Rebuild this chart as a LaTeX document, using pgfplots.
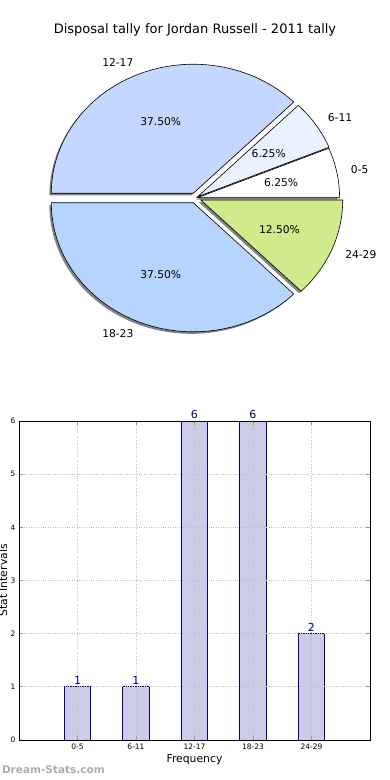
\documentclass[border=0pt]{standalone}
\usepackage{fontspec}
\setmainfont{DejaVu Sans}
\usepackage{pgfplots}
\pgfplotsset{compat=1.18}
\usepackage{pgfplotstable}
\definecolor{sA}{RGB}{255,255,255}
\definecolor{sB}{RGB}{234,241,255}
\definecolor{sC}{RGB}{196,216,255}
\definecolor{sD}{RGB}{181,213,255}
\definecolor{sE}{RGB}{207,235,140}
\definecolor{navyc}{RGB}{0,0,128}
\definecolor{barfill}{RGB}{204,204,230}
\definecolor{shadowc}{RGB}{130,130,130}
\pgfplotstableread{
x v label
0 1 0-5
1 1 6-11
2 6 12-17
3 6 18-23
4 2 24-29
}\bardata
\def\piedata{1/sA/0-5/0.015, 1/sB/6-11/0.02, 6/sC/12-17/0.04, 6/sD/18-23/0.04, 2/sE/24-29/0.04}
\begin{document}
\begin{tikzpicture}[x=1pt,y=1pt]
\useasboundingbox (0,0) rectangle (390,-780);
\node[font=\fontsize{13}{15}\selectfont] at (195,-30) {Disposal tally for Jordan Russell - 2011 tally};
% ---------- pie ----------
\begin{axis}[at={(195.5pt,-198pt)}, anchor=origin, hide axis, clip=false,
  x=142pt, y=129pt, xmin=-1.3, xmax=1.3, ymin=-1.3, ymax=1.3]
\xdef\cum{0}
\foreach \v/\c/\l/\d in \piedata {\pgfmathsetmacro\tmp{\cum+\v}\xdef\cum{\tmp}}
\xdef\total{\cum}
% shadows
\xdef\cum{0}
\foreach \v/\c/\l/\d in \piedata {
  \pgfmathsetmacro\s{360*\cum/\total}
  \pgfmathsetmacro\e{360*(\cum+\v)/\total}
  \pgfmathsetmacro\m{(\s+\e)/2}
  \pgfmathsetmacro\ax{\d*cos(\m)-0.014}
  \pgfmathsetmacro\ay{\d*sin(\m)-0.016}
  \pgfmathsetmacro\px{\ax+cos(\s)}
  \pgfmathsetmacro\py{\ay+sin(\s)}
  \edef\cmd{\noexpand\fill[shadowc] (axis cs:\ax,\ay) -- (axis cs:\px,\py) arc[start angle=\s, end angle=\e, x radius=142pt, y radius=129pt] -- cycle;}
  \cmd
  \pgfmathsetmacro\tmp{\cum+\v}\xdef\cum{\tmp}
}
% slices
\xdef\cum{0}
\foreach \v/\c/\l/\d in \piedata {
  \pgfmathsetmacro\s{360*\cum/\total}
  \pgfmathsetmacro\e{360*(\cum+\v)/\total}
  \pgfmathsetmacro\m{(\s+\e)/2}
  \pgfmathsetmacro\ax{\d*cos(\m)}
  \pgfmathsetmacro\ay{\d*sin(\m)}
  \pgfmathsetmacro\px{\ax+cos(\s)}
  \pgfmathsetmacro\py{\ay+sin(\s)}
  \pgfmathsetmacro\lx{\ax+1.1*cos(\m)}
  \pgfmathsetmacro\ly{\ay+1.1*sin(\m)}
  \pgfmathsetmacro\qx{\ax+0.6*cos(\m)}
  \pgfmathsetmacro\qy{\ay+0.6*sin(\m)}
  \pgfmathsetmacro\p{100*\v/\total}
  \pgfmathprintnumberto[fixed,fixed zerofill,precision=2,assume math mode=true]{\p}{\pstr}
  \pgfmathparse{cos(\m)>0 ? "west" : "east"}\let\anc\pgfmathresult
  \edef\cmd{\noexpand\filldraw[fill=\c, draw=black, line width=0.6pt] (axis cs:\ax,\ay) -- (axis cs:\px,\py) arc[start angle=\s, end angle=\e, x radius=142pt, y radius=129pt] -- cycle;
    \noexpand\node[anchor=\anc, inner sep=0pt, font=\noexpand\fontsize{10.7}{12}\noexpand\selectfont] at (axis cs:\lx,\ly) {\l};
    \noexpand\node[inner sep=0pt, font=\noexpand\fontsize{10.7}{12}\noexpand\selectfont] at (axis cs:\qx,\qy) {\pstr\noexpand\%};}
  \cmd
  \pgfmathsetmacro\tmp{\cum+\v}\xdef\cum{\tmp}
}
\end{axis}
% ---------- bars ----------
\begin{axis}[at={(19pt,-740pt)}, anchor=south west, scale only axis,
  width=351pt, height=319pt,
  xmin=-1, xmax=5, ymin=0, ymax=6,
  ybar, bar width=0.45,
  xtick={0,1,2,3,4}, xticklabels={0-5,6-11,12-17,18-23,24-29},
  ytick={0,1,2,3,4,5,6},
  grid=major, grid style={dotted, gray!50, line width=0.8pt},
  axis on top,
  tick align=inside, major tick length=4pt,
  tick style={gray!80, line width=0.8pt},
  axis line style={black, line width=0.9pt},
  tick label style={font=\fontsize{7.5}{8}\selectfont},
  /pgf/number format/assume math mode=true,
  xlabel={Frequency}, ylabel={Stat Intervals},
  every axis x label/.style={at={(axis description cs:0.5,-0.063)}, anchor=center, font=\fontsize{10.8}{12}\selectfont},
  every axis y label/.style={at={(axis description cs:-0.0456,0.5)}, anchor=center, rotate=90, font=\fontsize{10.8}{12}\selectfont},
  nodes near coords,
  nodes near coords style={text=navyc, font=\fontsize{11}{12}\selectfont, inner sep=1.5pt},
]
\addplot[fill=barfill, draw=navyc, line width=0.9pt] table[x=x, y=v] {\bardata};
\end{axis}
\node[anchor=west, text=gray!65, font=\bfseries\fontsize{10.5}{12}\selectfont] at (-1.5,-770) {Dream-Stats.com};
\end{tikzpicture}
\end{document}
